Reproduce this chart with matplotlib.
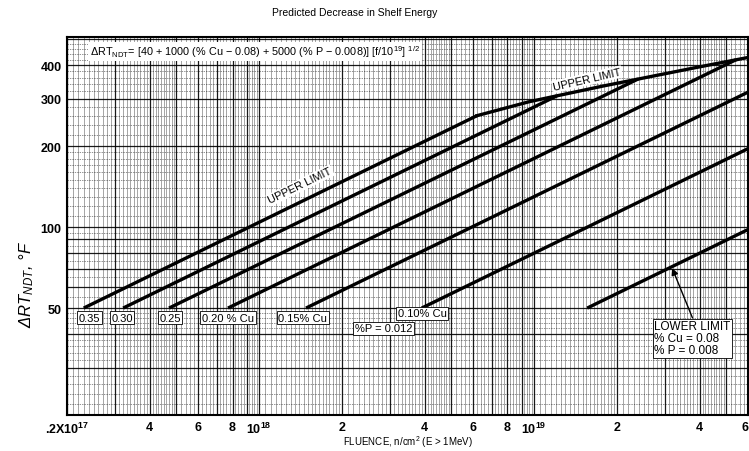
import numpy as np
import matplotlib.pyplot as plt

plt.rcParams['font.family'] = ['Liberation Sans', 'DejaVu Sans']
plt.rcParams['mathtext.default'] = 'regular'

# end points of each trend line (fluence n/cm2, delta RT in F)
line_names = ['0.35', '0.30', '0.25', '0.20 % Cu', '0.15% Cu', '0.10% Cu', 'LOWER LIMIT']
line_f0 = [2.3e17, 3.2e17, 4.7e17, 7.7e17, 1.48e18, 3.9e18, 1.56e19]
line_v0 = [50, 50, 50, 50, 50, 50, 50]
line_f1 = [6.2e18, 1.21e19, 2.39e19, 5.43e19, 6e19, 6e19, 6e19]
line_v1 = [260, 308, 356, 420, 318, 196, 98]

# upper limit envelope past the 0.35 line
upper_f = [6.2e18, 9.6e18, 1.78e19, 3.9e19, 6e19]
upper_v = [260, 293, 335, 393, 428]

xtick_vals = [2e17, 4e17, 6e17, 8e17, 1e18, 2e18, 4e18, 6e18, 8e18, 1e19, 2e19, 4e19, 6e19]
xtick_labels = ['.2X10$^{17}$', '4', '6', '8', '10$^{18}$', '2', '4', '6', '8', '10$^{19}$', '2', '4', '6']
ytick_vals = [50, 100, 200, 300, 400]
ytick_labels = ['50', '100', '200', '300', '400']

fig = plt.figure(figsize=(7.49, 4.52), dpi=100)
ax = fig.add_axes([0.0895, 0.0796, 0.9092, 0.8363])
ax.set_xscale('log')
ax.set_yscale('log')
ax.set_xlim(2e17, 6e19)
ax.set_ylim(20, 510)

# graph paper
for d in [1e17, 1e18, 1e19]:
    for m in np.concatenate([np.arange(1, 2, 0.05), np.arange(2, 5, 0.1), np.arange(5, 10, 0.2)]):
        major = abs(m - round(m)) < 1e-6
        ax.axvline(m * d, color='black', lw=0.9 if major else 0.45,
                   alpha=0.9 if major else 0.55, zorder=0)
for d in [10, 100]:
    for m in np.concatenate([np.arange(1, 2, 0.1), np.arange(2, 5, 0.2), np.arange(5, 10, 0.5)]):
        major = abs(m - round(m)) < 1e-6
        ax.axhline(m * d, color='black', lw=0.9 if major else 0.5,
                   ls='-' if major else (0, (2, 1.5)), alpha=0.9 if major else 0.6, zorder=0)

for f0, v0, f1, v1 in zip(line_f0, line_v0, line_f1, line_v1):
    ax.plot([f0, f1], [v0, v1], color='black', lw=2.4, solid_capstyle='butt', zorder=3)
ax.plot(upper_f, upper_v, color='black', lw=2.4, zorder=3)

box = dict(boxstyle='square,pad=0.15', fc='white', ec='black', lw=0.6)
lab_f = [2.42e17, 3.17e17, 4.74e17, 7.71e17, 1.44e18]
for name, f in zip(line_names[:5], lab_f):
    ax.text(f, 46, name, ha='center', va='center', fontsize=8, bbox=box, zorder=5)
ax.text(3.92e18, 47.8, '0.10% Cu', ha='center', va='center', fontsize=8, bbox=box, zorder=5)
ax.text(2.83e18, 42, '%P = 0.012', ha='center', va='center', fontsize=8, bbox=box, zorder=5)
ax.text(2.74e19, 45, 'LOWER LIMIT\n% Cu = 0.08\n% P = 0.008', ha='left', va='top',
        fontsize=8.5, linespacing=1.0, bbox=box, zorder=5)
ax.annotate('', xy=(3.15e19, 72), xytext=(3.8e19, 45),
            arrowprops=dict(arrowstyle='-|>', color='black', lw=1.0), zorder=5)

ax.text(1.41e18, 143, 'UPPER LIMIT', rotation=26, ha='center', va='center', fontsize=8,
        bbox=dict(boxstyle='square,pad=0.1', fc='white', ec='none'), zorder=5)
ax.text(1.56e19, 355, 'UPPER LIMIT', rotation=13, ha='center', va='center', fontsize=8,
        bbox=dict(boxstyle='square,pad=0.1', fc='white', ec='none'), zorder=5)

ax.text(2.42e17, 452, r'$\Delta$RT$_{NDT}$= [40 + 1000 (% Cu $-$ 0.08) + 5000 (% P $-$ 0.008)] [f/10$^{19}$] $^{1/2}$',
        ha='left', va='center', fontsize=7.8,
        bbox=dict(boxstyle='square,pad=0.15', fc='white', ec='none'), zorder=5)

ax.set_xticks(xtick_vals)
ax.set_xticklabels(xtick_labels, fontsize=9, fontweight='bold')
ax.get_xticklabels()[-1].set_horizontalalignment('right')
ax.set_yticks(ytick_vals)
ax.set_yticklabels(ytick_labels, fontsize=9, fontweight='bold')
ax.minorticks_off()
ax.tick_params(length=0, pad=4)
for s in ax.spines.values():
    s.set_linewidth(1.5)

fig.text(0.035, 0.37, r'$\Delta$RT$_{NDT}$, °F', rotation=90, ha='center', va='center',
         fontsize=12, style='italic')
fig.text(0.474, 0.972, 'Predicted Decrease in Shelf Energy', ha='center', va='center', fontsize=7.5)
fig.text(0.545, 0.022, 'FLUENCE, n/cm$^2$ (E > 1MeV)', ha='center', va='center', fontsize=7)

fig.savefig('out.png', dpi=100)
